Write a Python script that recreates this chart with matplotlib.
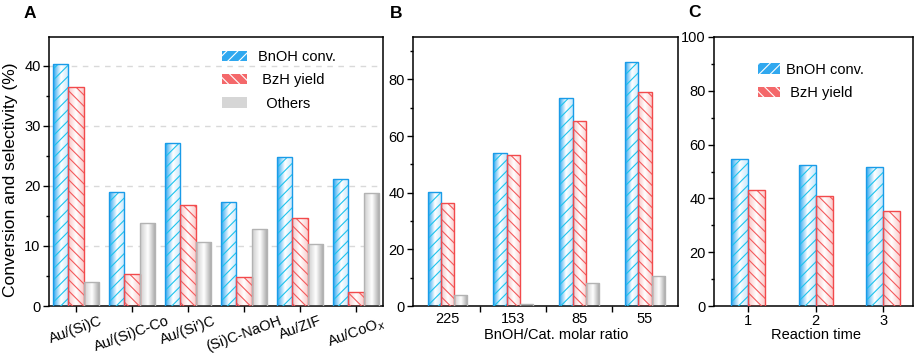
import numpy as np
import matplotlib
matplotlib.use("Agg")
import matplotlib.pyplot as plt
from matplotlib.colors import LinearSegmentedColormap
from matplotlib.patches import Patch
from matplotlib.ticker import MultipleLocator, FixedLocator
import matplotlib.transforms as mtransforms

plt.rcParams['font.family'] = ['Liberation Sans', 'DejaVu Sans']
plt.rcParams['hatch.linewidth'] = 0.8

# ---------------- data ----------------
cats_a = ["Au/(Si)C", "Au/(Si)C-Co", "Au/(Si\u2032)C", "(Si)C-NaOH", "Au/ZIF", "Au/CoO$_x$"]
conv_a = [40.3, 19.0, 27.2, 17.4, 24.8, 21.2]
yield_a = [36.4, 5.4, 16.8, 4.9, 14.6, 2.4]
others_a = [4.0, 13.8, 10.6, 12.8, 10.3, 18.9]

cats_b = ["225", "153", "85", "55"]
conv_b = [40.3, 54.0, 73.4, 86.3]
yield_b = [36.5, 53.4, 65.5, 75.7]
others_b = [4.0, 0.7, 8.0, 10.7]

cats_c = ["1", "2", "3"]
conv_c = [54.8, 52.3, 51.8]
yield_c = [43.1, 41.0, 35.2]

# ---------------- styles ----------------
blue_edge, blue_hatch = '#1a9be8', '#1cc4ee'
red_edge, red_hatch = '#f24a4c', '#f45a5c'
grey_edge = '#b3b3b3'
cm_blue = LinearSegmentedColormap.from_list('b', ['#2aa6f0', '#ffffff', '#c8e8fb'])
cm_red = LinearSegmentedColormap.from_list('r', ['#fbc4c4', '#ffffff', '#fbcccc'])
cm_grey = LinearSegmentedColormap.from_list('g', ['#cccccc', '#ffffff', '#a2a2a2'])


def grad_bars(ax, xs, hs, w, cmap, edge, hatch=None, hcolor=None, align='center'):
    bars = ax.bar(xs, hs, w, align=align, color='none', edgecolor=edge, lw=1.0, zorder=4)
    grad = np.linspace(0, 1, 64).reshape(1, -1)
    for b in bars:
        x0, y0 = b.get_x(), b.get_y()
        bw, bh = b.get_width(), b.get_height()
        im = ax.imshow(grad, cmap=cmap, extent=[x0, x0 + bw, y0, y0 + bh],
                       aspect='auto', zorder=2, interpolation='bilinear')
        im.set_clip_path(b)
    if hatch:
        ax.bar(xs, hs, w, align=align, color='none', edgecolor=hcolor,
               hatch=hatch, lw=0, zorder=3)
    return bars


W, H = 920, 354
fig = plt.figure(figsize=(W / 100, H / 100), dpi=100)


def add_ax(l, r, t=37, b=306):
    return fig.add_axes([l / W, 1 - b / H, (r - l) / W, (b - t) / H])


axA = add_ax(49, 383)
axB = add_ax(413, 678)
axC = add_ax(714, 913)

for ax in (axA, axB, axC):
    for s in ax.spines.values():
        s.set_linewidth(1.1)
    ax.tick_params(axis='both', which='major', direction='out', length=4, width=1.0,
                   labelsize=10.5, pad=2)
    ax.tick_params(axis='both', which='minor', direction='out', length=2.5, width=1.0)

# ---------------- A ----------------
xa = np.arange(len(cats_a))
wa = 0.27
grad_bars(axA, xa - wa, conv_a, wa, cm_blue, blue_edge, '///', blue_hatch)
grad_bars(axA, xa, yield_a, wa, cm_red, red_edge, '\\\\\\', red_hatch)
grad_bars(axA, xa + wa, others_a, wa, cm_grey, grey_edge)
axA.set_xlim(-0.482, 5.482)
axA.set_ylim(0, 44.8)
axA.yaxis.set_major_locator(MultipleLocator(10))
axA.yaxis.set_minor_locator(MultipleLocator(5))
axA.set_xticks(xa)
axA.set_xticklabels(cats_a, rotation=20, ha='center')
off = mtransforms.ScaledTranslation(-9 / 100, 0, fig.dpi_scale_trans)
for lab in axA.get_xticklabels():
    lab.set_transform(lab.get_transform() + off)
axA.tick_params(axis='x', pad=1.5)
for yv in (10, 20, 30, 40):
    axA.axhline(yv, color='#d9d9d9', lw=1.0, ls=(0, (4, 4)), zorder=1)
axA.set_ylabel("Conversion and selectivity (%)", fontsize=12.5)
axA.yaxis.set_label_coords(-0.094, 0.468)

hA = [Patch(facecolor='#30a8ef', edgecolor='white', hatch='///', lw=0),
      Patch(facecolor='#f4686a', edgecolor='white', hatch='\\\\\\', lw=0),
      Patch(facecolor='#d6d6d6', edgecolor='white', lw=0)]
axA.legend(hA, ["BnOH conv.", " BzH yield", "  Others"], loc='upper left',
           bbox_to_anchor=(0.518, 0.952), frameon=False, fontsize=10.5,
           borderpad=0, borderaxespad=0, handlelength=1.7, handleheight=0.7,
           handletextpad=0.8, labelspacing=0.64)

# ---------------- B ----------------
xb = np.arange(len(cats_b))
wb = 0.2
grad_bars(axB, xb - wb, conv_b, wb, cm_blue, blue_edge, '///', blue_hatch)
grad_bars(axB, xb, yield_b, wb, cm_red, red_edge, '\\\\\\', red_hatch)
grad_bars(axB, xb + wb, others_b, wb, cm_grey, grey_edge)
axB.set_xlim(-0.52, 3.5)
axB.set_ylim(0, 95)
axB.yaxis.set_major_locator(MultipleLocator(20))
axB.yaxis.set_minor_locator(MultipleLocator(10))
axB.set_xticks(xb)
axB.set_xticklabels(cats_b)
axB.xaxis.set_minor_locator(FixedLocator(xb[:-1] + 0.5))
axB.tick_params(axis='x', which='major', length=0, pad=4.5)
axB.tick_params(axis='x', which='minor', length=4)
axB.set_xlabel("BnOH/Cat. molar ratio", fontsize=10.5)
axB.xaxis.set_label_coords(0.539, -0.083)

# ---------------- C ----------------
xc = np.arange(1, len(cats_c) + 1)
wc = 0.25
grad_bars(axC, xc - wc, conv_c, wc, cm_blue, blue_edge, '///', blue_hatch, align='edge')
grad_bars(axC, xc, yield_c, wc, cm_red, red_edge, '\\\\\\', red_hatch, align='edge')
axC.set_xlim(0.492, 3.44)
axC.set_ylim(0, 100)
axC.yaxis.set_major_locator(MultipleLocator(20))
axC.yaxis.set_minor_locator(MultipleLocator(10))
axC.set_xticks(xc)
axC.set_xticklabels(cats_c)
axC.tick_params(axis='x', pad=1.5)
axC.set_xlabel("Reaction time", fontsize=10.5)
axC.xaxis.set_label_coords(0.511, -0.083)
hC = [Patch(facecolor='#30a8ef', edgecolor='white', hatch='///', lw=0),
      Patch(facecolor='#f4686a', edgecolor='white', hatch='\\\\\\', lw=0)]
axC.legend(hC, ["BnOH conv.", " BzH yield"], loc='upper left',
           bbox_to_anchor=(0.221, 0.905), frameon=False, fontsize=10.5,
           borderpad=0, borderaxespad=0, handlelength=1.5, handleheight=0.7,
           handletextpad=0.4, labelspacing=0.64)

# panel letters
fig.text(24 / W, 1 - 18.3 / H, "A", fontsize=12.5, fontweight='bold', va='baseline')
fig.text(390 / W, 1 - 18.3 / H, "B", fontsize=12.5, fontweight='bold', va='baseline')
fig.text(688 / W, 1 - 16.7 / H, "C", fontsize=12.5, fontweight='bold', va='baseline')

fig.savefig("out.png", dpi=100)
